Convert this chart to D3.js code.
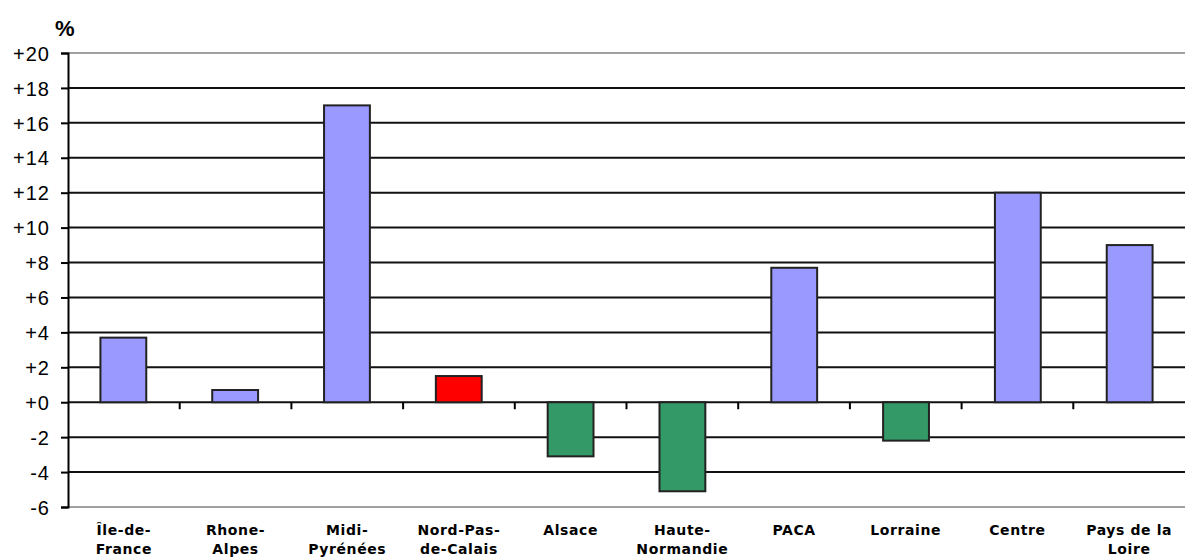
<!DOCTYPE html>
<html>
<head>
<meta charset="utf-8">
<script src="https://cdn.jsdelivr.net/npm/d3@7"></script>
<style>
body { margin: 0; background: #fff; }
svg { display: block; }
</style>
</head>
<body>
<svg></svg>
<script>
// regions and values (%)
var regions = [["Île-de-", "France"], ["Rhone-", "Alpes"], ["Midi-", "Pyrénées"], ["Nord-Pas-", "de-Calais"],
  ["Alsace"], ["Haute-", "Normandie"], ["PACA"], ["Lorraine"], ["Centre"], ["Pays de la", "Loire"]];
var values = [3.7, 0.7, 17.0, 1.5, -3.1, -5.1, 7.7, -2.2, 12.0, 9.0];
var barColors = ["#9999ff", "#9999ff", "#9999ff", "#ff0000", "#339966", "#339966", "#9999ff", "#339966", "#9999ff", "#9999ff"];
var yTicks = [20, 18, 16, 14, 12, 10, 8, 6, 4, 2, 0, -2, -4, -6];

var svgWidth = 1185, svgHeight = 558;
var plotLeft = 68, plotRight = 1185, plotTop = 53, plotBottom = 507;

var svg = d3.select('svg')
.attr('width', svgWidth)
.attr('height', svgHeight);

var keys = regions.map(function(d, i){ return i; });

var xScale = d3.scaleBand()
.domain(keys)
.range([plotLeft, plotRight])
.paddingInner(0.59)
.paddingOuter(0.29);

var bandScale = d3.scaleBand().domain(keys).range([plotLeft, plotRight]);

var yScale = d3.scaleLinear()
.domain([-6, 20])
.range([plotBottom, plotTop]);

// gridlines
svg.append('g')
.selectAll('line')
.data(yTicks)
.enter()
.append('line')
.attr('x1', plotLeft)
.attr('x2', plotRight)
.attr('y1', function(d){ return yScale(d); })
.attr('y2', function(d){ return yScale(d); })
.attr('stroke', function(d){ return (d === 20 || d === -6) ? '#a0a0a0' : '#111'; })
.attr('stroke-width', 2);

// y axis
var y_axis = d3.axisLeft(yScale)
.tickValues(yTicks)
.tickSize(7)
.tickFormat(function(d){ return d < 0 ? String(d) : '+' + d; });

var yg = svg.append('g')
.attr('transform', 'translate(' + plotLeft + ',0)')
.call(y_axis);
yg.select('.domain').attr('stroke', '#000').attr('stroke-width', 2);
yg.selectAll('.tick line').attr('stroke', '#000').attr('stroke-width', 2);
yg.selectAll('.tick text')
.attr('x', -18)
.attr('dy', '0.36em')
.attr('fill', '#000')
.style('font-family', '"Liberation Sans", Arial, sans-serif')
.style('font-size', '20px')
.style('letter-spacing', '1px');

// x ticks on zero line
svg.append('g')
.selectAll('line')
.data(keys.slice(1))
.enter()
.append('line')
.attr('x1', function(d){ return bandScale(d); })
.attr('x2', function(d){ return bandScale(d); })
.attr('y1', yScale(0))
.attr('y2', yScale(0) + 7)
.attr('stroke', '#000')
.attr('stroke-width', 2);

// bars
svg.append('g')
.selectAll('rect')
.data(values)
.enter()
.append('rect')
.attr('x', function(d, i){ return xScale(i); })
.attr('width', xScale.bandwidth())
.attr('y', function(d){ return yScale(Math.max(0, d)); })
.attr('height', function(d){ return Math.abs(yScale(d) - yScale(0)); })
.attr('fill', function(d, i){ return barColors[i]; })
.attr('stroke', '#222')
.attr('stroke-width', 2);

// category labels
var labels = svg.append('g')
.selectAll('text')
.data(regions)
.enter()
.append('text')
.attr('x', function(d, i){ return bandScale(i) + bandScale.bandwidth() / 2; })
.attr('y', 535)
.attr('text-anchor', 'middle')
.style('font-family', '"DejaVu Sans", Verdana, sans-serif')
.style('font-weight', 'bold')
.style('font-size', '14px')
.style('letter-spacing', '0.6px');

labels.selectAll('tspan')
.data(function(d){ return d; })
.enter()
.append('tspan')
.attr('x', function(){ return d3.select(this.parentNode).attr('x'); })
.attr('dy', function(d, i){ return i === 0 ? 0 : 19; })
.text(function(d){ return d; });

// unit label
svg.append('text')
.attr('x', 55)
.attr('y', 36)
.style('font-family', '"Liberation Sans", Arial, sans-serif')
.style('font-weight', 'bold')
.style('font-size', '22px')
.text('%');
</script>
</body>
</html>
